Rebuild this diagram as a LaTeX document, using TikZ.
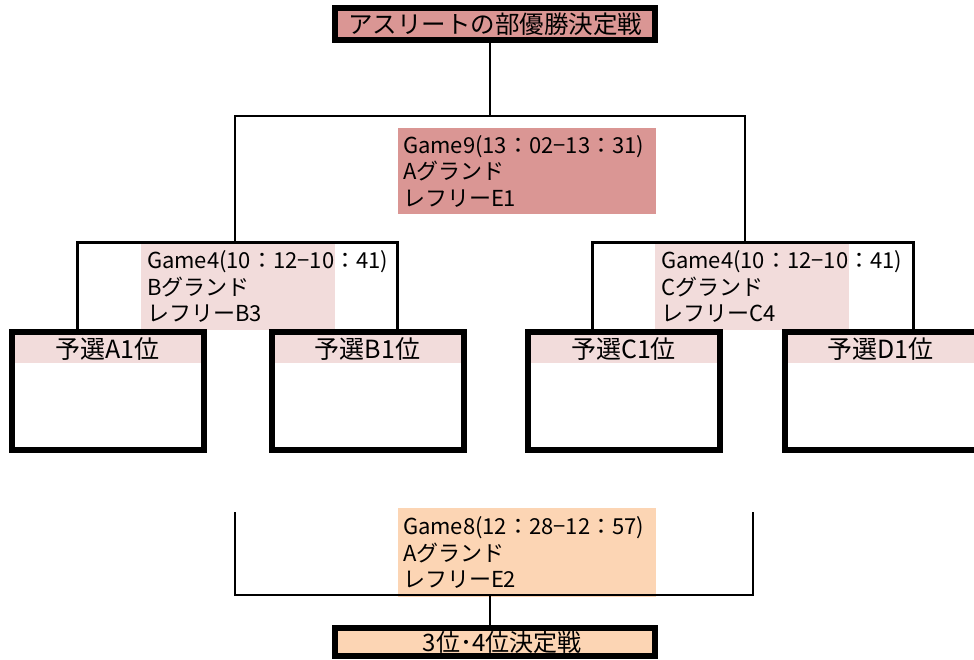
\documentclass[tikz,border=0pt]{standalone}
\usepackage{fontspec}
\setmainfont{Noto Sans CJK JP}
\usetikzlibrary{positioning}
\definecolor{rose}{HTML}{DA9694}
\definecolor{blush}{HTML}{F2DCDB}
\definecolor{peach}{HTML}{FCD5B4}

\begin{document}
\begin{tikzpicture}[x=1pt,y=-1pt,
    frame/.style={draw,line width=6pt,inner sep=0pt},
    cell/.style={inner sep=0pt,outer sep=0pt},
    info/.style={cell,align=left,inner xsep=5pt,
      font=\fontsize{22}{26.5}\selectfont},
    head/.style={font=\fontsize{25}{28}\selectfont},
    thinline/.style={line width=1.6pt},
    thickline/.style={line width=3pt}]
  \useasboundingbox (0,0) rectangle (974,660);

  \node[info,fill=rose,minimum width=258pt,minimum height=86pt,
    text width=248pt] (g9) at (527,171)
    {Game9(13：02−13：31)\\Aグランド\\レフリーE1};
  \node[info,fill=blush,minimum width=194pt,minimum height=87pt,
    text width=182pt,inner xsep=6pt] (g4l) at (238,286.5)
    {Game4(10：12−10：41)\\Bグランド\\レフリーB3};
  \node[info,fill=blush,minimum width=194pt,minimum height=87pt,
    text width=182pt,inner xsep=6pt] (g4r) at (752,286.5)
    {Game4(10：12−10：41)\\Cグランド\\レフリーC4};
  \node[info,fill=peach,minimum width=258pt,minimum height=89pt,
    text width=248pt] (g8) at (527,552.5)
    {Game8(12：28−12：57)\\Aグランド\\レフリーE2};

  \node[frame,fill=rose,minimum width=320pt,minimum height=32pt,
    font=\fontsize{24.5}{28}\selectfont] (final) at (495,24)
    {アスリートの部優勝決定戦};
  \node[frame,fill=peach,minimum width=320pt,minimum height=28pt,
    font=\fontsize{24}{28}\selectfont] (third) at (495,642)
    {\hspace*{14pt}3位･4位決定戦};

  \foreach \name/\x/\lbl in {pA/107.5/A,pB/367.5/B,pC/623.5/C,pD/880.5/D}{
    \node[frame,minimum width=192pt,minimum height=118pt] (\name) at (\x,391) {};
    \node[cell,fill=blush,minimum width=186pt,minimum height=28pt,head,
      anchor=north] (h\name) at ([yshift=-6pt]\name.north) {予選\lbl 1位};
  }

  \coordinate (j9) at (490,116);
  \coordinate (jl) at (235,116);
  \coordinate (jr) at (745,116);
  \coordinate (la) at (77,243);
  \coordinate (lb) at (397,243);
  \coordinate (ra) at (592,243);
  \coordinate (rb) at (913,243);
  \coordinate (k8) at (490,595);
  \coordinate (kl) at (235,595);
  \coordinate (kr) at (753,595);
  \coordinate (kt) at (0,512);

  \draw[thinline] (j9 |- final.south) -- (j9);
  \draw[thinline] (jl |- la) -- (jl) -- (jr) -- (jr |- ra);
  \draw[thickline] (la |- pA.north) -- (la) -- (lb) -- (lb |- pB.north);
  \draw[thickline] (ra |- pC.north) -- (ra) -- (rb) -- (rb |- pD.north);
  \draw[thinline] (kl |- kt) -- (kl) -- (kr) -- (kr |- kt);
  \draw[thinline] (k8) -- (k8 |- third.north);
\end{tikzpicture}
\end{document}
